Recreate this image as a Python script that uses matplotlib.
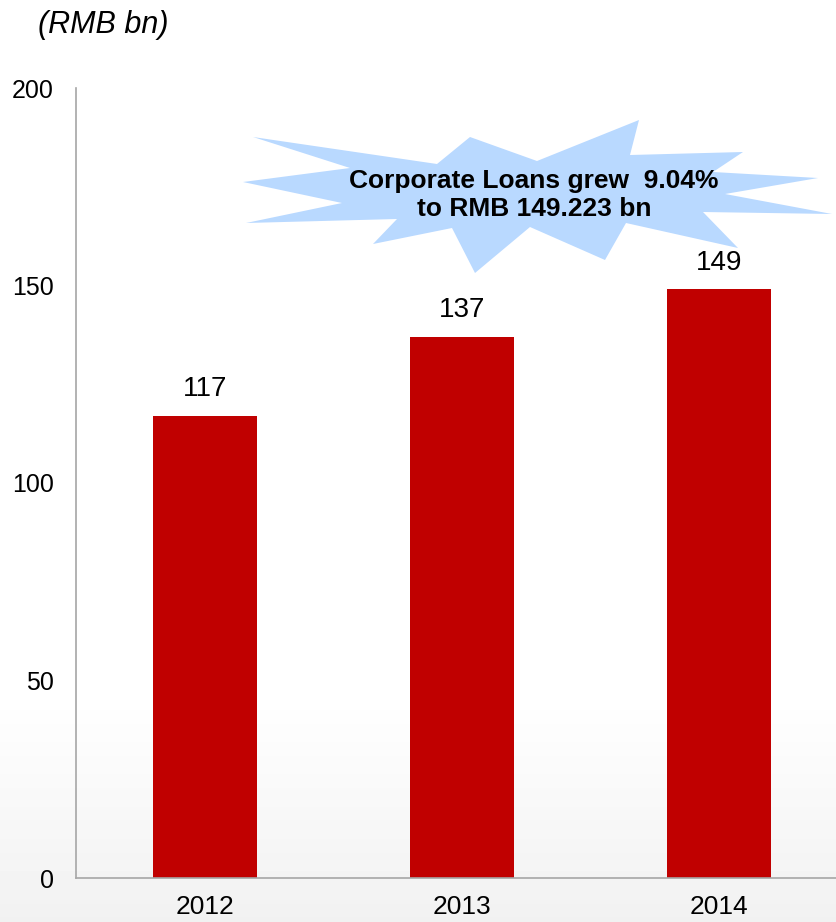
import numpy as np
import matplotlib.pyplot as plt
from matplotlib.patches import Polygon

plt.rcParams['font.family'] = ['Liberation Sans', 'DejaVu Sans']

years = ["2012", "2013", "2014"]
loans = [117, 137, 149]
yticks = [0, 50, 100, 150, 200]
unit_label = "(RMB bn)"
callout = "Corporate Loans grew  9.04%\nto RMB 149.223 bn"

# starburst outline, in figure pixels (x from left, y from top)
burst_x = [253, 437, 470, 537, 639, 630, 743, 713, 818, 725, 832, 703, 738, 626,
           605, 530, 475, 452, 373, 397, 246, 342, 243, 350]
burst_y = [137, 164, 137, 161, 120, 155, 152, 172, 178, 194, 214, 212, 248, 223,
           260, 227, 273, 228, 244, 219, 223, 203, 182, 168]

W, H = 836, 922
fig = plt.figure(figsize=(W / 100, H / 100), dpi=100)

# soft grey fade at the bottom of the slide
bg = fig.add_axes([0, 0, 1, 1], zorder=-10)
grad = np.ones(200)
grad[:50] = np.linspace(0.945, 1.0, 50)
bg.imshow(grad[::-1].reshape(-1, 1), cmap="gray", vmin=0, vmax=1,
          aspect="auto", extent=[0, 1, 0, 1], origin="upper")
bg.axis("off")

ax = fig.add_axes([76 / W, 1 - 878 / H, (848 - 76) / W, (878 - 88) / H])
ax.patch.set_alpha(0)
x = np.arange(len(years))
ax.bar(x, loans, width=0.405, color="#c00000", zorder=2)
for xi, v in zip(x, loans):
    ax.text(xi, v + 3.5, str(v), ha="center", va="bottom", fontsize=20)

ax.set_xlim(-0.5, 2.5)
ax.set_ylim(0, 200)
ax.set_yticks(yticks)
ax.set_xticks(x)
ax.set_xticklabels(years)
ax.tick_params(axis="both", length=0)
ax.tick_params(axis="y", pad=16, labelsize=18)
ax.tick_params(axis="x", pad=12, labelsize=19)
for s in ["top", "right"]:
    ax.spines[s].set_visible(False)
for s in ["left", "bottom"]:
    ax.spines[s].set_color("#a6a6a6")
    ax.spines[s].set_linewidth(1.2)

pts = [(bx / W, 1 - by / H) for bx, by in zip(burst_x, burst_y)]
fig.patches.append(Polygon(pts, closed=True, transform=fig.transFigure,
                           facecolor="#b9d9ff", edgecolor="none", zorder=5))
fig.text(534 / W, 1 - 195 / H, callout, ha="center", va="center",
         fontsize=19, fontweight="bold", linespacing=1.2, zorder=6)

fig.text(38 / W, 1 - 25 / H, unit_label, ha="left", va="center",
         fontsize=22, style="italic")

plt.savefig("out.png", dpi=100)
plt.close()
